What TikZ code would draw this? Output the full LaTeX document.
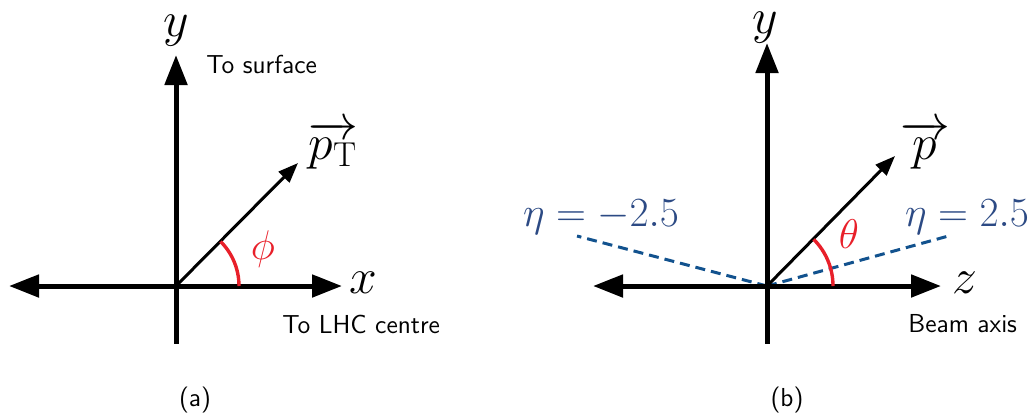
\documentclass[tikz,border=0pt]{standalone}
\usetikzlibrary{arrows.meta}
\definecolor{arcred}{RGB}{232,32,42}
\definecolor{dashblue}{RGB}{18,82,142}
\definecolor{etablue}{RGB}{44,74,132}
\tikzset{
  axis/.style={line width=2.5pt,-{Triangle[length=15pt,width=11pt]}},
  axisboth/.style={line width=2.5pt,{Triangle[length=15pt,width=11pt]}-{Triangle[length=15pt,width=11pt]}},
  vec/.style={line width=1.5pt,-{Triangle[length=10pt,width=7.5pt]}},
  anglearc/.style={line width=1.7pt,draw=arcred},
  etaline/.style={line width=1.5pt,draw=dashblue,dash pattern=on 5pt off 3pt},
  mathlbl/.style={inner sep=0pt,font=\fontsize{23}{27}\selectfont},
  sanslbl/.style={inner sep=0pt,font=\fontsize{13}{15}\selectfont\sffamily},
  etalbl/.style={inner sep=0pt,text=etablue,font=\fontsize{19.5}{23}\selectfont},
}
\begin{document}
\begin{tikzpicture}[x=0.5pt,y=-0.5pt]
\useasboundingbox (0,0) rectangle (1031,414);
% ---------- (a) ----------
\coordinate (O1) at (176,286);
\coordinate (Y1t) at (176,55);
\coordinate (Y1b) at (176,344);
\coordinate (X1l) at (9,286);
\coordinate (X1r) at (342,286);
\coordinate (P1) at (298,163);
\draw[line width=2.5pt] (O1) -- (Y1b);
\draw[axis] (O1) -- (Y1t);
\draw[axisboth] (X1l) -- (X1r);
\draw[vec] (O1) -- (P1);
\draw[anglearc] (O1) ++(63,0) arc[start angle=0,end angle=45,radius=31.5pt];
\node[mathlbl] (ly1) at (176,31) {$y$};
\node[mathlbl] (lx1) at (363,283) {$x$};
\node[mathlbl] (lp1) at (333,145) {$\overrightarrow{p_{\mathrm{T}}}$};
\node[mathlbl,text=arcred,font=\fontsize{22}{26}\selectfont] (lphi) at (263,249) {$\phi$};
\node[sanslbl,anchor=west] (surf) at (206,64) {To surface};
\node[sanslbl,anchor=west] (lhc) at (282,324) {To LHC centre};
\node[sanslbl] (capa) at (195,400) {(a)};
% ---------- (b) ----------
\coordinate (O2) at (767,286);
\coordinate (Y2t) at (767,43);
\coordinate (Y2b) at (767,344);
\coordinate (Z2l) at (593,286);
\coordinate (Z2r) at (941,286);
\coordinate (P2) at (895,156);
\coordinate (E2l) at (577,236);
\coordinate (E2r) at (952,235);
\draw[etaline] (O2) -- (E2l);
\draw[etaline] (O2) -- (E2r);
\draw[line width=2.5pt] (O2) -- (Y2b);
\draw[axis] (O2) -- (Y2t);
\draw[axisboth] (Z2l) -- (Z2r);
\draw[vec] (O2) -- (P2);
\draw[anglearc] (O2) ++(66,0) arc[start angle=0,end angle=45,radius=33pt];
\node[mathlbl] (ly2) at (765,28) {$y$};
\node[mathlbl] (lz2) at (965,283) {$z$};
\node[mathlbl] (lp2) at (925,145) {$\overrightarrow{p}$};
\node[mathlbl,text=arcred,font=\fontsize{21}{25}\selectfont] (lth) at (849,234) {$\theta$};
\node[etalbl] (etam) at (601,217) {$\eta=-2.5$};
\node[etalbl] (etap) at (967,217) {$\eta=2.5$};
\node[sanslbl,anchor=west] (beam) at (908,324) {Beam axis};
\node[sanslbl] (capb) at (787,400) {(b)};
\end{tikzpicture}
\end{document}
